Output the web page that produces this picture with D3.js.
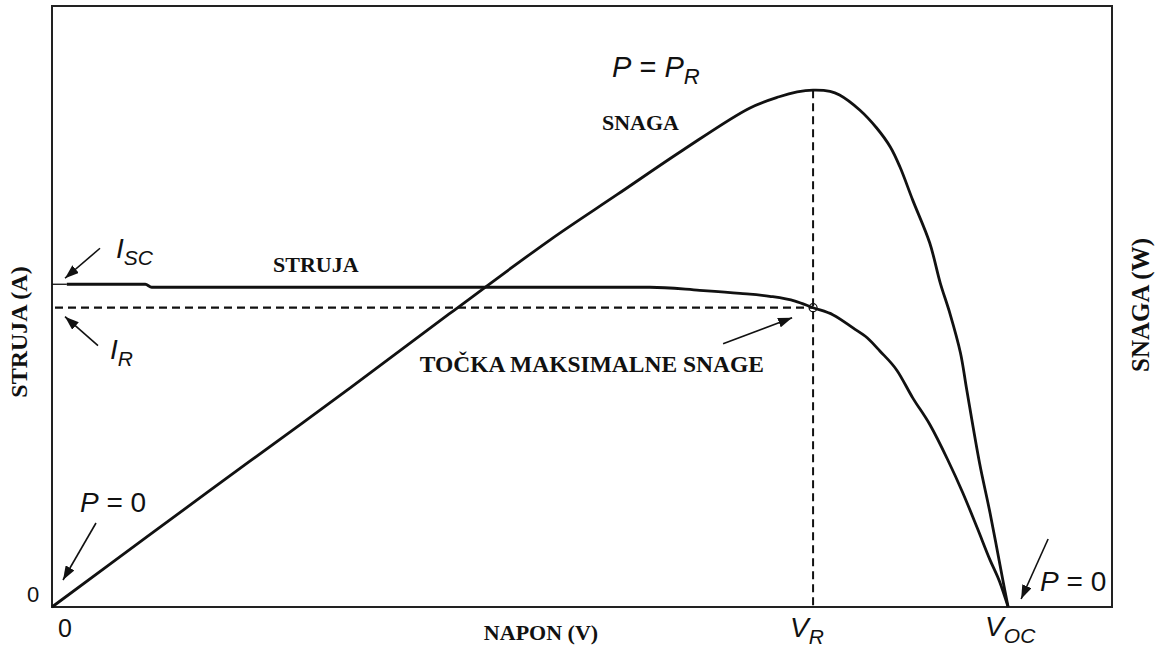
<!DOCTYPE html>
<html>
<head>
<meta charset="utf-8">
<script src="https://cdn.jsdelivr.net/npm/d3@7"></script>
<style>
  body { margin: 0; background: #fff; }
  .sans { font-family: "Liberation Sans", Arial, sans-serif; }
  .serif { font-family: "Liberation Serif", "Times New Roman", serif; font-weight: bold; }
</style>
</head>
<body>
<script>
// napon (V), relative units 0..100 across the frame
var curVolt = [0, 1.4, 8.8, 9.4, 56.4, 61.1, 64.9, 67.7, 70.1, 71.8, 73.7, 75.6, 76.9, 78.1, 79.7, 81.2, 82.8, 84.5, 85.9, 87.3, 88.5, 89.4, 90.2];
// struja (A)
var curAmp  = [5.37, 5.37, 5.37, 5.32, 5.32, 5.27, 5.22, 5.17, 5.09, 4.98, 4.86, 4.64, 4.48, 4.26, 3.94, 3.48, 3.04, 2.45, 1.91, 1.31, 0.78, 0.42, 0];

var powVolt = [0, 9.2, 18.7, 28.1, 37.5, 47.0, 53.3, 59.5, 65.8, 68.6, 70.3, 71.8, 73.4, 74.3, 76.2, 77.8, 79.1, 80.0, 81.2, 82.8, 83.8, 84.7, 85.7, 86.3, 87.5, 88.5, 89.7, 90.2];
// snaga (W)
var powWatt = [0, 1.20, 2.43, 3.64, 4.88, 6.11, 6.86, 7.60, 8.30, 8.49, 8.57, 8.60, 8.58, 8.52, 8.27, 7.97, 7.65, 7.32, 6.77, 6.06, 5.39, 4.89, 4.23, 3.61, 2.40, 1.56, 0.45, 0];

var VR = 71.8, VOC = 90.2, IR = 4.98, ISC = 5.37, PR = 8.60;

var width = 1157, height = 650;

var svg = d3.select("body").append("svg")
    .attr("width", width)
    .attr("height", height);

var x = d3.scaleLinear().domain([0, 100]).range([52, 1112]);
var yI = d3.scaleLinear().domain([0, 10]).range([607, 6]);
var yP = d3.scaleLinear().domain([0, 10]).range([607, 6]);

// arrow head
svg.append("defs").append("marker")
    .attr("id", "arr")
    .attr("viewBox", "0 0 14 10")
    .attr("refX", 14).attr("refY", 5)
    .attr("markerWidth", 14).attr("markerHeight", 10)
    .attr("markerUnits", "userSpaceOnUse")
    .attr("orient", "auto")
  .append("path")
    .attr("d", "M0,0 L14,5 L0,10 Z")
    .attr("fill", "#111");

// frame
svg.append("rect")
    .attr("x", x(0)).attr("y", yI(10))
    .attr("width", x(100) - x(0)).attr("height", yI(0) - yI(10))
    .attr("fill", "none").attr("stroke", "#222").attr("stroke-width", 2);

// dashed guides to the max power point
svg.append("line")
    .attr("x1", x(0) + 3).attr("x2", x(VR))
    .attr("y1", yI(IR)).attr("y2", yI(IR))
    .attr("stroke", "#111").attr("stroke-width", 2.3).attr("stroke-dasharray", "8,5");
svg.append("line")
    .attr("x1", x(VR)).attr("x2", x(VR))
    .attr("y1", yP(PR)).attr("y2", yI(0))
    .attr("stroke", "#111").attr("stroke-width", 2).attr("stroke-dasharray", "8,5");

// curves
var curData = curVolt.map(function(v, i){ return [v, curAmp[i]]; });
var powData = powVolt.map(function(v, i){ return [v, powWatt[i]]; });

var lineI = d3.line().x(function(d){ return x(d[0]); }).y(function(d){ return yI(d[1]); }).curve(d3.curveMonotoneX);
var lineP = d3.line().x(function(d){ return x(d[0]); }).y(function(d){ return yP(d[1]); }).curve(d3.curveCatmullRom.alpha(0.5));

svg.append("path").datum(curData.slice(0, 2))
    .attr("d", lineI).attr("fill", "none").attr("stroke", "#111").attr("stroke-width", 1.3);
svg.append("path").datum(curData.slice(1))
    .attr("d", lineI).attr("fill", "none").attr("stroke", "#111").attr("stroke-width", 2.8);
svg.append("path").datum(powData)
    .attr("d", lineP).attr("fill", "none").attr("stroke", "#111").attr("stroke-width", 2.8);

// max power point marker
svg.append("circle")
    .attr("cx", x(VR)).attr("cy", yI(IR)).attr("r", 4)
    .attr("fill", "none").attr("stroke", "#111").attr("stroke-width", 1.2);

// annotation arrows
function arrow(x1, y1, x2, y2){
  svg.append("line")
      .attr("x1", x1).attr("y1", y1).attr("x2", x2).attr("y2", y2)
      .attr("stroke", "#111").attr("stroke-width", 1.6)
      .attr("marker-end", "url(#arr)");
}
arrow(x(0) + 48, yI(ISC) - 36, x(0) + 13, yI(ISC) - 6);
arrow(x(0) + 46, yI(IR) + 38, x(0) + 13, yI(IR) + 9);
arrow(x(0) + 44, yI(0) - 84, x(0) + 11, yI(0) - 27);
arrow(x(VOC) + 40, yI(0) - 68, x(VOC) + 13, yI(0) - 8);
arrow(x(VR) - 90, yI(IR) + 36, x(VR) - 21, yI(IR) + 10);

// italic symbol labels with subscripts
function sym(xp, yp, main, sub, rest){
  var t = svg.append("text").attr("class", "sans")
      .attr("x", xp).attr("y", yp)
      .attr("font-size", 28).attr("fill", "#111");
  t.append("tspan").attr("font-style", "italic").text(main);
  if (sub) t.append("tspan").attr("font-style", "italic").attr("font-size", 21).attr("dy", 7).text(sub);
  if (rest) t.append("tspan").text(rest);
  return t;
}

// P = P_R
var tpr = svg.append("text").attr("class", "sans")
    .attr("x", x(VR) - 201).attr("y", yP(PR) - 13)
    .attr("font-size", 29).attr("fill", "#111");
tpr.append("tspan").attr("font-style", "italic").text("P");
tpr.append("tspan").text(" = ");
tpr.append("tspan").attr("font-style", "italic").text("P");
tpr.append("tspan").attr("font-style", "italic").attr("font-size", 22).attr("dy", 7).text("R");

sym(x(0) + 64, yI(ISC) - 26, "I", "SC");
sym(x(0) + 58, yI(IR) + 51, "I", "R");
sym(x(0) + 28, yI(0) - 95, "P", null, " = 0");
sym(x(VOC) + 32, yI(0) - 16, "P", null, " = 0");
sym(x(VR) - 23, 637, "V", "R");
sym(x(VOC) - 23, 636, "V", "OC");

svg.append("text").attr("class", "sans")
    .attr("x", 33).attr("y", 602).attr("text-anchor", "middle")
    .attr("font-size", 22).attr("fill", "#111").text("0");
svg.append("text").attr("class", "sans")
    .attr("x", 65).attr("y", 637).attr("text-anchor", "middle")
    .attr("font-size", 25).attr("fill", "#111").text("0");

// bold serif labels
function label(xp, yp, txt, anchor, size){
  return svg.append("text").attr("class", "serif")
      .attr("x", xp).attr("y", yp)
      .attr("text-anchor", anchor || "start")
      .attr("font-size", size || 22).attr("fill", "#111")
      .text(txt);
}
label(273, 272, "STRUJA");
label(602, 130, "SNAGA");
label(764, 372, "TOČKA MAKSIMALNE SNAGE", "end", 23.5);
label(541, 640, "NAPON (V)", "middle");
label(0, 0, "STRUJA (A)", "middle", 24).attr("transform", "translate(27,332) rotate(-90)");
label(0, 0, "SNAGA (W)", "middle", 25).attr("transform", "translate(1149,305) rotate(-90)");
</script>
</body>
</html>
